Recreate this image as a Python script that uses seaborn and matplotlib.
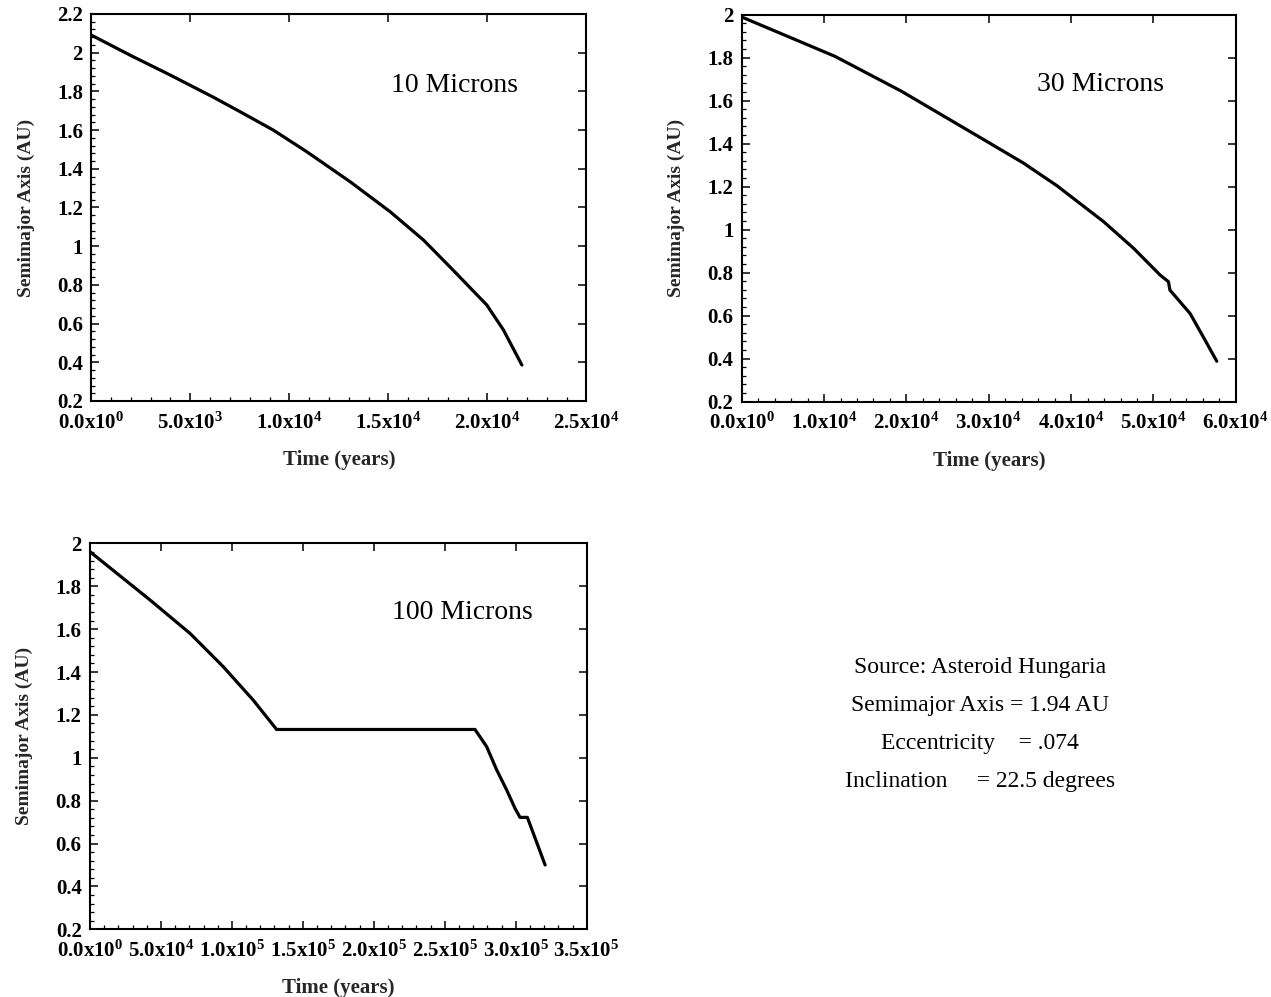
import numpy as np
import pandas as pd
import matplotlib
matplotlib.use("Agg")
import matplotlib.pyplot as plt
from matplotlib.ticker import MultipleLocator, AutoMinorLocator, FuncFormatter
import seaborn as sns

# Semimajor-axis decay of dust grains released from asteroid Hungaria
time_10um = [0, 2000, 3975, 6160, 7510, 9190, 10880, 13070, 15090, 16770, 18280, 19970, 20810, 21740]
axis_10um = [2.091, 1.985, 1.885, 1.770, 1.695, 1.600, 1.488, 1.333, 1.178, 1.032, 0.875, 0.696, 0.567, 0.386]

time_30um = [0, 11330, 19430, 30000, 34200, 38260, 43920, 47570, 50810, 51820, 52000, 54450, 56070, 57690]
axis_30um = [1.989, 1.806, 1.643, 1.405, 1.310, 1.205, 1.038, 0.914, 0.789, 0.758, 0.719, 0.610, 0.500, 0.388]

time_100um = [0, 42300, 70500, 94000, 115000, 131500, 271300, 279500, 286600, 293600, 299500, 303000, 308200, 320700]
axis_100um = [1.961, 1.736, 1.580, 1.424, 1.269, 1.132, 1.132, 1.052, 0.943, 0.850, 0.764, 0.722, 0.722, 0.500]

panel_labels = ["10 Microns", "30 Microns", "100 Microns"]
source_lines = ["Source: Asteroid Hungaria",
                "Semimajor Axis = 1.94 AU",
                "Eccentricity    = .074",
                "Inclination     = 22.5 degrees"]

sns.set_style("ticks")
plt.rcParams["font.family"] = ["Liberation Serif", "DejaVu Serif"]
plt.rcParams["mathtext.fontset"] = "custom"
plt.rcParams["mathtext.rm"] = "Liberation Serif"
plt.rcParams["mathtext.bf"] = "Liberation Serif:bold"
plt.rcParams["mathtext.it"] = "Liberation Serif:italic"


def sci_label(v, pos):
    if v == 0:
        return r"0.0x10$^{\mathbf{0}}$"
    e = int(np.floor(np.log10(abs(v)) + 1e-9))
    m = v / 10 ** e
    return f"{m:.1f}x10$^{{\\mathbf{{{e}}}}}$"


def y_label(v, pos):
    return f"{v:g}"


fig = plt.figure(figsize=(12.71, 9.97), dpi=100)

panels = [
    (time_10um, axis_10um, [0.0718, 0.5978, 0.3896, 0.3882], 25000, 5000, 2.2, (0.734, 0.816)),
    (time_30um, axis_30um, [0.5836, 0.5971, 0.3887, 0.3882], 60000, 10000, 2.0, (0.727, 0.819)),
    (time_100um, axis_100um, [0.0708, 0.0679, 0.3908, 0.3871], 350000, 50000, 2.0, (0.749, 0.822)),
]

for (t, a, rect, xmax, xstep, ymax, lab_xy), label in zip(panels, panel_labels):
    ax = fig.add_axes(rect)
    df = pd.DataFrame({"t": t, "a": a})
    sns.lineplot(data=df, x="t", y="a", ax=ax, color="black", linewidth=2.3,
                 sort=False, estimator=None)
    ax.set_xlim(0, xmax)
    ax.set_ylim(0.2, ymax)
    ax.xaxis.set_major_locator(MultipleLocator(xstep))
    ax.xaxis.set_minor_locator(AutoMinorLocator(5))
    ax.yaxis.set_major_locator(MultipleLocator(0.2))
    ax.yaxis.set_minor_locator(AutoMinorLocator(5))
    ax.xaxis.set_major_formatter(FuncFormatter(sci_label))
    ax.yaxis.set_major_formatter(FuncFormatter(y_label))
    ax.tick_params(which="both", direction="in", colors="black", labelsize=15)
    ax.tick_params(which="major", length=6, width=1.1, top=True, right=True)
    ax.tick_params(which="minor", length=3, width=0.9, top=False, right=False)
    ax.tick_params(axis="x", which="major", pad=8)
    ax.tick_params(axis="y", which="major", pad=6)
    for lbl in ax.get_xticklabels() + ax.get_yticklabels():
        lbl.set_fontweight("bold")
    for sp in ax.spines.values():
        sp.set_linewidth(1.5)
        sp.set_color("black")
    ax.set_xlabel("Time (years)", fontsize=15, fontweight="bold", labelpad=12)
    ax.set_ylabel("Semimajor Axis (AU)", fontsize=14, fontweight="bold", labelpad=16)
    ax.text(lab_xy[0], lab_xy[1], label, transform=ax.transAxes, fontsize=20,
            ha="center", va="center", color="black")

fig.text(0.771, 0.2733, "\n".join(source_lines), ha="center", va="center",
         fontsize=17, linespacing=2.05, color="black")

fig.savefig("out.png", dpi=100, facecolor="white")
